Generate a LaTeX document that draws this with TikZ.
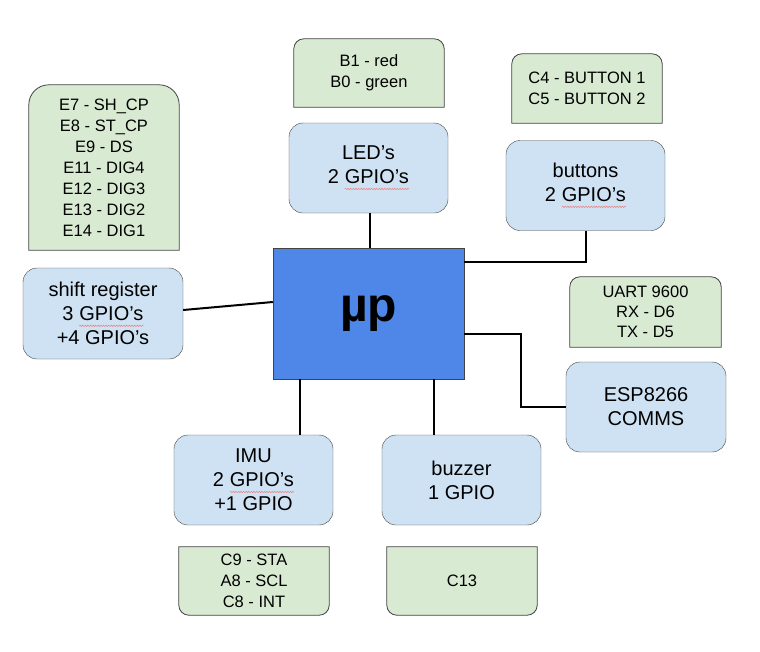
\documentclass[tikz,border=0pt]{standalone}
\usepackage{fontspec}
\setmainfont{Liberation Sans}
\usetikzlibrary{backgrounds,decorations.pathmorphing}

\definecolor{boxblue}{HTML}{CFE2F3}
\definecolor{notegreen}{HTML}{D9EAD3}
\definecolor{mcublue}{HTML}{4F87E8}
\definecolor{edgegray}{HTML}{434343}
\definecolor{squigred}{HTML}{E88A8A}

% red spell-check wave under a word
\newcommand{\squig}[1]{\tikz[baseline=(sq.base)]{%
  \node[inner sep=0pt,outer sep=0pt,minimum width=0pt,minimum height=0pt,
    draw=none,fill=none,rounded corners=0pt] (sq) {#1};
  \draw[squigred,line width=.6pt,rounded corners=0pt,decorate,
    decoration={snake,amplitude=.7pt,segment length=2.6pt}]
    ([yshift=-5pt]sq.south west) -- ([yshift=-5pt]sq.south east);}}

\begin{document}
\begin{tikzpicture}[
  x=1pt,y=-1pt,
  part/.style={draw=edgegray,fill=boxblue,rounded corners=14pt,align=center,
    font=\fontsize{20}{24}\selectfont,minimum width=159pt,minimum height=90pt,
    inner sep=0pt},
  pins/.style={align=center,font=\fontsize{16.5}{21}\selectfont,
    minimum width=150pt,minimum height=68pt,inner sep=0pt},
  pinbg/.style={draw=edgegray,fill=notegreen,line width=.8pt},
  wire/.style={line width=2pt,black},
]
  \useasboundingbox (0,0) rectangle (760,651);
  % controller
  \node[draw=edgegray,fill=mcublue,minimum width=191pt,minimum height=131pt,
    font=\fontsize{48}{48}\selectfont\bfseries] (mcu) at (368.5,313.5) {µp};
  % peripherals
  \node[part] (led) at (368.5,168) {LED’s\\2 \squig{GPIO’s}};
  \node[part] (buttons) at (585.5,185.5) {buttons\\2 \squig{GPIO’s}};
  \node[part,minimum width=160pt,minimum height=91pt] (shift) at (103,313.5)
    {shift register\\3 \squig{GPIO’s}\\+4 GPIO’s};
  \node[part,minimum width=160pt] (esp) at (646,407) {ESP8266\\COMMS};
  \node[part] (imu) at (253.5,480) {IMU\\2 \squig{GPIO’s}\\+1 GPIO};
  \node[part] (buzzer) at (461.5,480) {buzzer\\1 GPIO};
  % pin notes
  \node[pins,minimum height=165pt] (e7) at (104,167.5)
    {E7 - SH\_CP\\E8 - ST\_CP\\E9 - DS\\E11 - DIG4\\E12 - DIG3\\E13 - DIG2\\E14 - DIG1};
  \node[pins] (b1) at (369,73) {B1 - red\\B0 - green};
  \node[pins,minimum height=69pt] (c4) at (587,88.5) {C4 - BUTTON 1\\C5 - BUTTON 2};
  \node[pins,minimum width=151pt,minimum height=70pt,
    font=\fontsize{16.5}{20}\selectfont] (uart) at (645.5,312)
    {UART 9600\\RX - D6\\TX - D5};
  \node[pins] (c9) at (254,581) {C9 - STA\\A8 - SCL\\C8 - INT};
  \node[pins] (c13) at (462,581) {C13};
  \begin{pgfonlayer}{background}
    \foreach \n/\r in {e7/20pt,b1/10pt,c4/10pt,uart/10pt}
      \filldraw[pinbg] (\n.south west) -- ([yshift=-\r]\n.north west)
        arc[start angle=180,end angle=90,radius=\r]
        -- ([xshift=-\r]\n.north east)
        arc[start angle=90,end angle=0,radius=\r] -- (\n.south east) -- cycle;
    \foreach \n in {c9,c13}
      \filldraw[pinbg] (\n.north west) -- ([yshift=10pt]\n.south west)
        arc[start angle=180,end angle=270,radius=10pt]
        -- ([xshift=-10pt]\n.south east)
        arc[start angle=270,end angle=360,radius=10pt] -- (\n.north east) -- cycle;
  \end{pgfonlayer}
  % connectors
  \draw[wire] ([xshift=1.5pt]led.south) coordinate (l1) -- (l1 |- mcu.north);
  \draw[wire] ([yshift=3.5pt]shift.east) -- ([yshift=11.5pt]mcu.west);
  \draw[wire] (buttons.south) |- ([yshift=51.5pt]mcu.east);
  \draw[wire] ([yshift=-20.5pt]mcu.east) -- ++(57,0) |- (esp.west);
  \draw[wire] ([xshift=-69pt]mcu.south) coordinate (m1) -- (m1 |- imu.north);
  \draw[wire] ([xshift=65pt]mcu.south) coordinate (m2) -- (m2 |- buzzer.north);
\end{tikzpicture}
\end{document}
